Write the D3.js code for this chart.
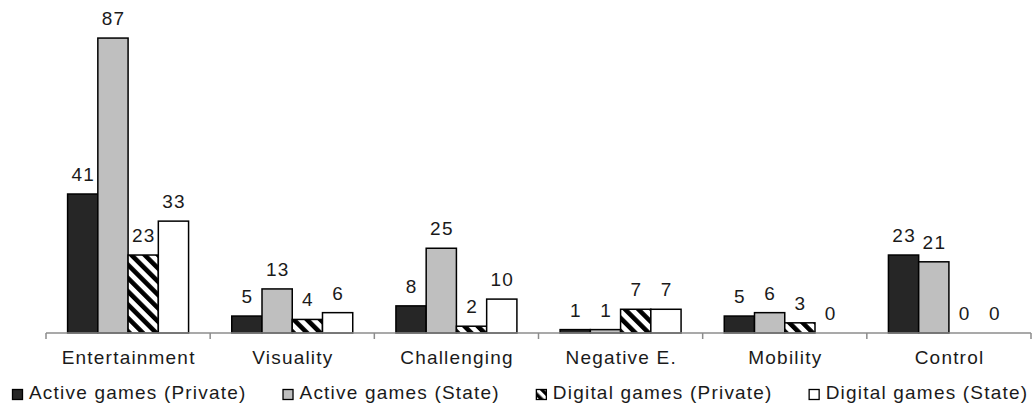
<!DOCTYPE html>
<html>
<head>
<meta charset="utf-8">
<script src="https://cdn.jsdelivr.net/npm/d3@7"></script>
<style>
  html, body { margin: 0; padding: 0; background: #fff; }
  svg { display: block; }
  text { font-family: "Liberation Sans", Arial, sans-serif; fill: #1a1a1a; }
</style>
</head>
<body>
<svg id="chart" width="1032" height="405"></svg>
<script>
const categories = ["Entertainment", "Visuality", "Challenging", "Negative E.", "Mobility", "Control"];
const seriesNames = ["Active games (Private)", "Active games (State)", "Digital games (Private)", "Digital games (State)"];
const activePrivate = [41, 5, 8, 1, 5, 23];
const activeState   = [87, 13, 25, 1, 6, 21];
const digitalPrivate = [23, 4, 2, 7, 3, 0];
const digitalState   = [33, 6, 10, 7, 0, 0];
const seriesValues = [activePrivate, activeState, digitalPrivate, digitalState];

const svg = d3.select("#chart");
const axisY = 333;
const FONT = "19px";
const LS = "1.2px";

const defs = svg.append("defs");
const pat = defs.append("pattern")
  .attr("id", "hatch")
  .attr("patternUnits", "userSpaceOnUse")
  .attr("width", 9.4).attr("height", 9.4)
  .attr("patternTransform", "rotate(-45)");
pat.append("rect").attr("width", 9.4).attr("height", 9.4).attr("fill", "#fff");
pat.append("rect").attr("x", 0).attr("width", 4.6).attr("height", 9.4).attr("fill", "#000");

const ps = defs.append("pattern")
  .attr("id", "hatchSmall")
  .attr("patternUnits", "userSpaceOnUse")
  .attr("width", 7).attr("height", 7)
  .attr("patternTransform", "rotate(-45)");
ps.append("rect").attr("width", 7).attr("height", 7).attr("fill", "#fff");
ps.append("rect").attr("width", 3.5).attr("height", 7).attr("fill", "#000");

const fills = ["#262626", "#bfbfbf", "url(#hatch)", "#ffffff"];
const legendFills = ["#262626", "#bfbfbf", "url(#hatchSmall)", "#ffffff"];

const x = d3.scaleBand().domain(categories).range([46, 1031]).paddingInner(0).paddingOuter(0);
const xs = d3.scaleBand().domain(d3.range(seriesNames.length)).range([0, x.bandwidth()])
  .paddingInner(0).paddingOuter(0.714);
const y = d3.scaleLinear().domain([0, 90]).range([axisY, axisY - 305.1]);

// bars
const groups = svg.append("g").selectAll("g")
  .data(categories).join("g")
  .attr("transform", d => `translate(${x(d)},0)`);

groups.selectAll("rect")
  .data((c, ci) => seriesValues.map((vals, si) => ({ si, v: vals[ci] })))
  .join("rect")
  .attr("x", d => xs(d.si))
  .attr("width", xs.bandwidth())
  .attr("y", d => y(d.v))
  .attr("height", d => axisY - y(d.v))
  .attr("fill", d => fills[d.si])
  .attr("stroke", d => d.v > 0 ? "#000" : "none")
  .attr("stroke-width", 1.5);

groups.selectAll("text.val")
  .data((c, ci) => seriesValues.map((vals, si) => ({ si, v: vals[ci] })))
  .join("text")
  .attr("class", "val")
  .attr("x", d => xs(d.si) + xs.bandwidth() / 2 + 0.6)
  .attr("y", d => y(d.v) - 13)
  .attr("text-anchor", "middle")
  .style("font-size", FONT)
  .style("letter-spacing", LS)
  .text(d => d.v);

// axis
const axisG = svg.append("g");
axisG.append("line")
  .attr("x1", 46).attr("x2", 1031).attr("y1", axisY).attr("y2", axisY)
  .attr("stroke", "#8c8c8c").attr("stroke-width", 1.5);
const bounds = categories.map(c => x(c)).concat([x(categories[categories.length - 1]) + x.bandwidth()]);
axisG.selectAll("line.tick").data(bounds).join("line")
  .attr("class", "tick")
  .attr("x1", d => d).attr("x2", d => d)
  .attr("y1", axisY).attr("y2", axisY + 6)
  .attr("stroke", "#8c8c8c").attr("stroke-width", 1.5);
axisG.selectAll("text").data(categories).join("text")
  .attr("x", d => x(d) + x.bandwidth() / 2 + 0.6)
  .attr("y", 364)
  .attr("text-anchor", "middle")
  .style("font-size", FONT)
  .style("letter-spacing", LS)
  .text(d => d);

// legend
const leg = svg.append("g");
let lx = 12;
const gap = 36;
seriesNames.forEach((name, i) => {
  const g = leg.append("g").attr("transform", `translate(${lx},0)`);
  g.append("rect")
    .attr("x", 0.5).attr("y", 389.5).attr("width", 10).attr("height", 10)
    .attr("fill", legendFills[i])
    .attr("stroke", "#000").attr("stroke-width", 1.3);
  const t = g.append("text")
    .attr("x", 17).attr("y", 399)
    .style("font-size", FONT)
    .style("letter-spacing", LS)
    .text(name);
  lx += 17 + t.node().getComputedTextLength() + gap;
});
</script>
</body>
</html>
